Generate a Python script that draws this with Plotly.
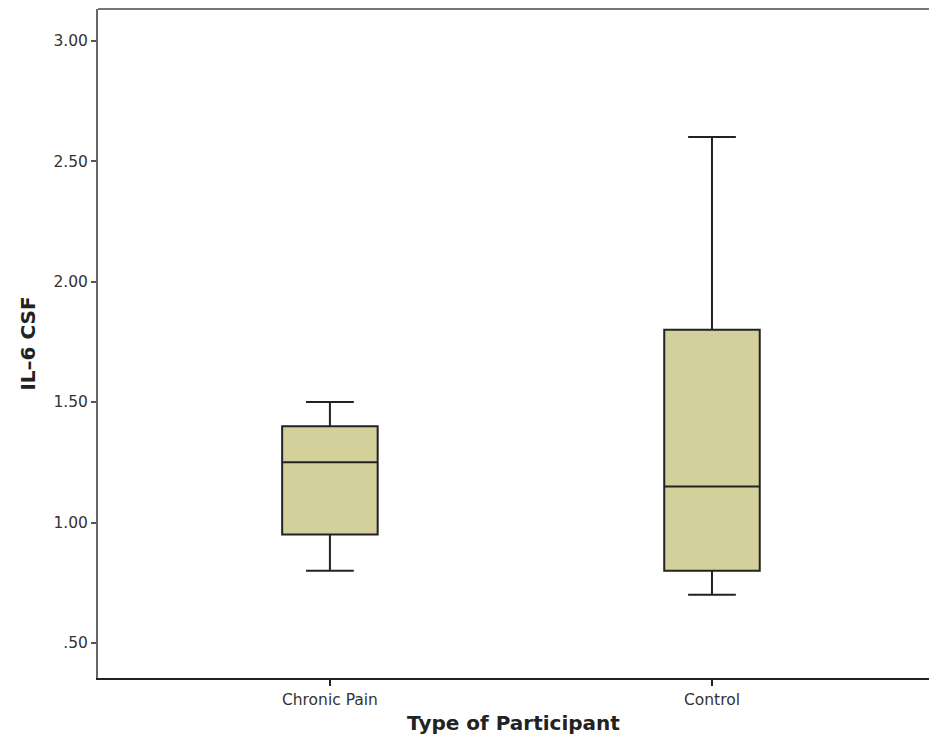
import plotly.graph_objects as go

categories = ["Chronic Pain", "Control"]
lower_whisker = [0.80, 0.70]
q1_vals = [0.95, 0.80]
median_vals = [1.25, 1.15]
q3_vals = [1.40, 1.80]
upper_whisker = [1.50, 2.60]

tick_vals = [0.5, 1.0, 1.5, 2.0, 2.5, 3.0]
tick_text = [".50", "1.00", "1.50", "2.00", "2.50", "3.00"]

fig = go.Figure()
fig.add_trace(go.Box(
    x=categories,
    q1=q1_vals,
    median=median_vals,
    q3=q3_vals,
    lowerfence=lower_whisker,
    upperfence=upper_whisker,
    fillcolor="#D4D09B",
    line=dict(color="#222222", width=2),
    whiskerwidth=0.5,
    width=0.25,
    boxpoints=False,
    showlegend=False,
    hoverinfo="skip",
))

fig.update_layout(
    width=921, height=733,
    margin=dict(l=90, r=0, t=1, b=63),
    paper_bgcolor="white", plot_bgcolor="white",
    font=dict(family="DejaVu Sans", color="#333333", size=15.5),
    xaxis=dict(
        range=[-0.607, 1.568],
        showline=True, linecolor="#222222", linewidth=2,
        ticks="outside", ticklen=6, tickwidth=2, tickcolor="#222222",
        showgrid=False, zeroline=False,
        tickfont=dict(size=15.5, color="#333333"),
        title=dict(text="<b>Type of Participant</b>", font=dict(size=20, color="#222222"), standoff=8),
    ),
    yaxis=dict(
        range=[0.355, 3.131],
        tickvals=tick_vals, ticktext=tick_text,
        showline=True, linecolor="#666666", linewidth=2,
        ticks="outside", ticklen=5, tickwidth=2, tickcolor="#555555",
        showgrid=False, zeroline=False,
        tickfont=dict(size=15.5, color="#333333"),
        title=dict(text="<b>IL–6 CSF</b>", font=dict(size=20, color="#222222"), standoff=12),
    ),
    shapes=[dict(type="line", xref="paper", yref="paper", x0=0, x1=1, y0=1, y1=1,
                 line=dict(color="#777777", width=2))],
)

fig.write_html("out.html")
